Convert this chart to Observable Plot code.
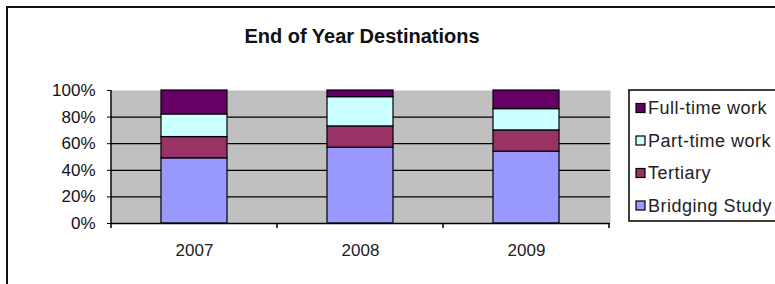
<!DOCTYPE html>
<html>
<head>
<meta charset="utf-8">
<script src="https://cdn.jsdelivr.net/npm/d3@7"></script>
<script src="https://cdn.jsdelivr.net/npm/@observablehq/plot@0.6"></script>
<style>
  body { margin: 0; background: white; }
</style>
</head>
<body>
<div id="chart"></div>
<script>
const title = "End of Year Destinations";
const years = ["2007", "2008", "2009"];
const seriesNames = ["Bridging Study", "Tertiary", "Part-time work", "Full-time work"];
const seriesColors = ["#9999FF", "#993366", "#CCFFFF", "#660066"];
const bridgingStudy = [49, 57, 54];
const tertiary = [16, 16, 16];
const partTimeWork = [17, 22, 16];
const fullTimeWork = [18, 5, 14];
const yTicks = [0, 20, 40, 60, 80, 100];
const gridTicks = [20, 40, 60, 80];

const seriesValues = [bridgingStudy, tertiary, partTimeWork, fullTimeWork];
const rows = [];
seriesNames.forEach((s, i) => years.forEach((y, j) => rows.push({year: y, series: s, value: seriesValues[i][j]})));

const font = "'Liberation Sans', Arial, sans-serif";

const chart = Plot.plot({
  width: 775,
  height: 284,
  marginLeft: 111,
  marginRight: 165,
  marginTop: 90,
  marginBottom: 61,
  style: {fontFamily: font, fontSize: "17px", color: "black", background: "white"},
  x: {domain: years, paddingInner: 0.6, paddingOuter: 0.3, label: null},
  y: {domain: [0, 100], label: null},
  color: {domain: seriesNames, range: seriesColors},
  marks: [
    Plot.frame({fill: "#C0C0C0", stroke: "none"}),
    Plot.gridY(gridTicks, {stroke: "black", strokeOpacity: 1, strokeWidth: 1.2}),
    Plot.barY(rows, {x: "year", y: "value", fill: "series", stroke: "black", strokeWidth: 1.2}),
    Plot.ruleY([0], {stroke: "black", strokeWidth: 1.5}),
    Plot.axisY({ticks: yTicks, tickFormat: d => d + "%", tickSize: 4, tickPadding: 12, stroke: "black", fill: "#111"}),
    Plot.axisX({tickSize: 0, tickPadding: 20, fill: "#222"})
  ]
});

const svg = d3.select(chart);
const xs = chart.scale("x");
const ys = chart.scale("y");
const x0 = xs.range[0];
const yTop = ys.apply(100), yBot = ys.apply(0);

// y-axis line
svg.append("line").attr("x1", x0).attr("x2", x0).attr("y1", yTop).attr("y2", yBot)
  .attr("stroke", "black").attr("stroke-width", 1.5);
// category boundary ticks on x axis
const bounds = [];
years.forEach((y, i) => {
  const c = xs.apply(y) + xs.bandwidth / 2;
  if (i === 0) bounds.push(c - xs.step / 2);
  bounds.push(c + xs.step / 2);
});
svg.append("g").selectAll("line").data(bounds).join("line")
  .attr("x1", d => d).attr("x2", d => d).attr("y1", yBot).attr("y2", yBot + 5)
  .attr("stroke", "black").attr("stroke-width", 1.5);

// outer chart-area border
svg.append("rect").attr("x", 7).attr("y", 7).attr("width", 800).attr("height", 300)
  .attr("fill", "none").attr("stroke", "#111").attr("stroke-width", 2);

// title
svg.append("text").attr("x", 362).attr("y", 43).attr("text-anchor", "middle")
  .attr("font-family", font).attr("font-size", 20).attr("font-weight", "bold").attr("fill", "#111")
  .text(title);

// legend
const lg = svg.append("g").attr("text-anchor", "start");
lg.append("rect").attr("x", 629).attr("y", 90).attr("width", 160).attr("height", 131)
  .attr("fill", "white").attr("stroke", "black").attr("stroke-width", 1.5);
const legendItems = seriesNames.map((s, i) => ({name: s, color: seriesColors[i]})).reverse();
legendItems.forEach((d, i) => {
  const cy = 108 + i * 32.5;
  lg.append("rect").attr("x", 636).attr("y", cy - 4.5).attr("width", 9).attr("height", 9)
    .attr("fill", d.color).attr("stroke", "black").attr("stroke-width", 1.2);
  lg.append("text").attr("x", 648).attr("y", cy).attr("dy", "0.36em").attr("text-anchor", "start")
    .attr("letter-spacing", "0.5px")
    .attr("font-family", font).attr("font-size", 18).attr("fill", "#222").text(d.name);
});

document.getElementById("chart").appendChild(chart);
</script>
</body>
</html>
